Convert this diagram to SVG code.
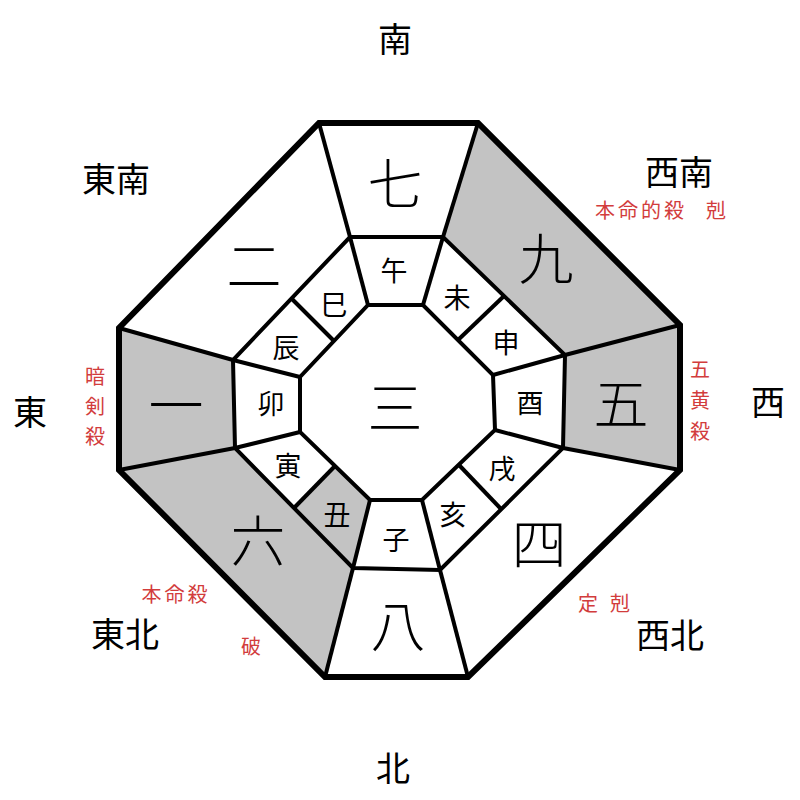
<svg xmlns="http://www.w3.org/2000/svg" width="800" height="800" viewBox="0 0 800 800">
<style>
.fill{fill:#c3c3c3;stroke:none}
.ln{fill:none;stroke:#000;stroke-width:4;stroke-linejoin:miter}
.outer{fill:none;stroke:#000;stroke-width:6;stroke-linejoin:miter}
text{font-family:"Noto Sans CJK JP","Noto Sans CJK SC",sans-serif;text-anchor:middle;dominant-baseline:central}
.num{font-size:55px;font-weight:300;fill:#000}
.br{font-size:27px;fill:#000}
.dir{font-size:34px;fill:#000}
.red{font-size:20px;fill:#d23c3c}
</style>
<rect width="800" height="800" fill="#fff"/>
<g id="fills">
<polygon class="fill" points="478,123 680,325 565,355 443,237"/>
<polygon class="fill" points="680,325 680,470 563,448 565,355"/>
<polygon class="fill" points="119,470 119,328 233,360 235,448"/>
<polygon class="fill" points="325,677 119,470 235,448 353,568"/>
<polygon class="fill" points="294,508 353,568 370,500 335,466"/>
</g>
<g id="connectors">
<polygon class="ln" points="350,237 443,237 565,355 563,448 440,570 353,568 235,448 233,360"/>
<polygon class="ln" points="368,305 423,305 493,375 495,430 422,500 370,500 300,432 300,377"/>
<line class="ln" x1="319" y1="123" x2="350" y2="237"/>
<line class="ln" x1="478" y1="123" x2="443" y2="237"/>
<line class="ln" x1="680" y1="325" x2="565" y2="355"/>
<line class="ln" x1="680" y1="470" x2="563" y2="448"/>
<line class="ln" x1="468" y1="677" x2="440" y2="570"/>
<line class="ln" x1="325" y1="677" x2="353" y2="568"/>
<line class="ln" x1="119" y1="470" x2="235" y2="448"/>
<line class="ln" x1="119" y1="328" x2="233" y2="360"/>
<line class="ln" x1="350" y1="237" x2="368" y2="305"/>
<line class="ln" x1="443" y1="237" x2="423" y2="305"/>
<line class="ln" x1="565" y1="355" x2="493" y2="375"/>
<line class="ln" x1="563" y1="448" x2="495" y2="430"/>
<line class="ln" x1="440" y1="570" x2="422" y2="500"/>
<line class="ln" x1="353" y1="568" x2="370" y2="500"/>
<line class="ln" x1="235" y1="448" x2="300" y2="432"/>
<line class="ln" x1="233" y1="360" x2="300" y2="377"/>
<line class="ln" x1="504" y1="296" x2="458" y2="340"/>
<line class="ln" x1="501" y1="509" x2="459" y2="465"/>
<line class="ln" x1="294" y1="508" x2="335" y2="466"/>
<line class="ln" x1="291" y1="298" x2="334" y2="341"/>
<polygon class="outer" points="319,123 478,123 680,325 680,470 468,677 325,677 119,470 119,328"/>
</g>
<g id="numbers">
<text class="num" x="395" y="180">七</text>
<text class="num" x="546" y="255">九</text>
<text class="num" x="621" y="400">五</text>
<text class="num" x="539" y="540">四</text>
<text class="num" x="398" y="622">八</text>
<text class="num" x="258" y="537">六</text>
<text class="num" x="176" y="402">一</text>
<text class="num" x="254" y="262">二</text>
<text class="num" x="395" y="404">三</text>
</g>
<g id="branches">
<text class="br" x="394" y="269">午</text>
<text class="br" x="457" y="296">未</text>
<text class="br" x="506" y="341">申</text>
<text class="br" x="530" y="401">酉</text>
<text class="br" x="502" y="467">戌</text>
<text class="br" x="453" y="513">亥</text>
<text class="br" x="396" y="538">子</text>
<text class="br" x="337" y="513">丑</text>
<text class="br" x="288" y="464">寅</text>
<text class="br" x="271" y="402">卯</text>
<text class="br" x="286" y="346">辰</text>
<text class="br" x="334" y="303">巳</text>
</g>
<g id="directions">
<text class="dir" x="395" y="37">南</text>
<text class="dir" x="393" y="766">北</text>
<text class="dir" x="30" y="410">東</text>
<text class="dir" x="768" y="400">西</text>
<text class="dir" x="116" y="177">東南</text>
<text class="dir" x="679" y="170">西南</text>
<text class="dir" x="125" y="632">東北</text>
<text class="dir" x="670" y="633">西北</text>
</g>
<g id="notes">
<text class="red" x="641" y="209" letter-spacing="3">本命的殺</text>
<text class="red" x="716" y="209">剋</text>
<text class="red" x="700" y="368">五</text>
<text class="red" x="700" y="399">黄</text>
<text class="red" x="700" y="430">殺</text>
<text class="red" x="95" y="375">暗</text>
<text class="red" x="95" y="405">剣</text>
<text class="red" x="95" y="435">殺</text>
<text class="red" x="176" y="593" letter-spacing="3">本命殺</text>
<text class="red" x="251" y="645">破</text>
<text class="red" x="588" y="602">定</text>
<text class="red" x="620" y="602">剋</text>
</g>
</svg>
